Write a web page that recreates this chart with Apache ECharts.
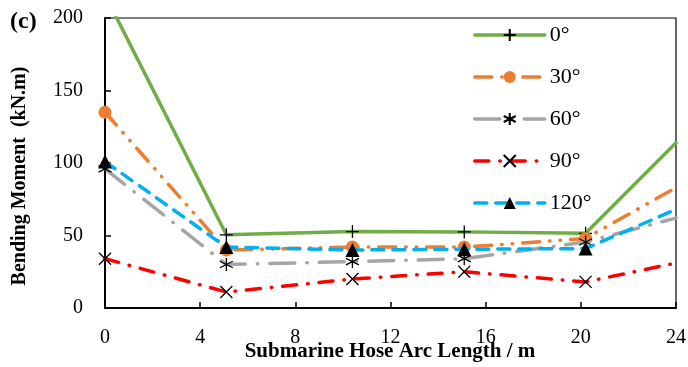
<!DOCTYPE html>
<html>
<head>
<meta charset="utf-8">
<script src="https://cdn.jsdelivr.net/npm/echarts@6/dist/echarts.min.js"></script>
<style>html,body{margin:0;padding:0;background:#fff}#c{width:688px;height:367px}</style>
</head>
<body>
<div id="c"></div>
<script>
// Data
var arcLength = [0, 5.1, 10.4, 15.1, 20.2, 24];
var seriesNames = ['0°', '30°', '60°', '90°', '120°'];
var moment0   = [216, 50.5, 52.7, 52.5, 51.5, 114];
var moment30  = [135, 40, 42, 42, 48, 83];
var moment60  = [96, 30, 32, 34, 45.5, 62];
var moment90  = [34, 11, 20, 25, 18, 31];
var moment120 = [101, 42, 40, 40.5, 41, 68];
var xTicks = { min: 0, max: 24, interval: 4 };
var yTicks = { min: 0, max: 200, interval: 50 };
var xTitle = 'Submarine Hose Arc Length / m';
var yTitle = 'Bending Moment  (kN.m)';

var FONT = 'Liberation Serif';
var PLUS = 'path://M0,-1 L0,1 M-1,0 L1,0';
var CROSS = 'path://M-1,-1 L1,1 M-1,1 L1,-1';
var STAR = 'path://M0,-1 L0,1 M-0.87,-0.5 L0.87,0.5 M-0.87,0.5 L0.87,-0.5';

function pts(vals, hideFirst) {
  return vals.map(function (v, i) {
    var item = { value: [arcLength[i], v] };
    if (i === vals.length - 1 || (hideFirst && i === 0)) item.symbol = 'none';
    return item;
  });
}

var styles = [
  { data: moment0, hideFirst: true, color: '#70AD47', dash: 'solid', symbol: PLUS, size: 13, fill: '#000', stroke: true },
  { data: moment30, color: '#ED7D31', dash: [17, 10, 0.5, 10, 0.5, 10], symbol: 'circle', size: 13, fill: '#ED7D31', stroke: false },
  { data: moment60, color: '#A5A5A5', dash: [25, 12, 0.5, 12], symbol: STAR, size: 13, fill: '#000', stroke: true },
  { data: moment90, color: '#FF0000', dash: [14, 11, 0.5, 11], symbol: CROSS, size: 12, fill: '#000', stroke: true },
  { data: moment120, color: '#00B0F0', dash: [12, 9], symbol: 'triangle', size: 14, fill: '#000', stroke: false }
];

var series = styles.map(function (s, k) {
  return {
    name: seriesNames[k],
    type: 'line',
    data: pts(s.data, s.hideFirst),
    symbol: s.symbol,
    symbolSize: s.size,
    showAllSymbol: true,
    clip: true,
    z: 2 + k,
    lineStyle: { color: s.color, width: 3.5, type: s.dash, cap: 'round' },
    itemStyle: s.stroke ? { color: s.fill, borderColor: '#000', borderWidth: 1.3 } : { color: s.fill, borderWidth: 0 },
    emphasis: { disabled: true },
    animation: false
  };
});

var chart = echarts.init(document.getElementById('c'), null, { renderer: 'canvas' });
chart.setOption({
  animation: false,
  textStyle: { fontFamily: FONT },
  grid: { left: 105, right: 12, top: 18, bottom: 59, show: true, borderColor: '#000', borderWidth: 1.2, containLabel: false, outerBoundsMode: 'none' },
  xAxis: {
    type: 'value', min: xTicks.min, max: xTicks.max, interval: xTicks.interval,
    axisLine: { show: true, lineStyle: { color: '#000', width: 2 } },
    axisTick: { show: true, inside: true, length: 6, lineStyle: { color: '#000', width: 1.5 } },
    axisLabel: { fontFamily: FONT, fontSize: 20, color: '#000', margin: 20 },
    splitLine: { show: false }
  },
  yAxis: {
    type: 'value', min: yTicks.min, max: yTicks.max, interval: yTicks.interval,
    axisLine: { show: true, lineStyle: { color: '#000', width: 2 } },
    axisTick: { show: true, inside: true, length: 6, lineStyle: { color: '#000', width: 1.5 } },
    axisLabel: { fontFamily: FONT, fontSize: 20, color: '#000', margin: 22 },
    splitLine: { show: false }
  },
  legend: {
    orient: 'vertical', left: 468, top: 19,
    itemWidth: 70, itemHeight: 15, itemGap: 20,
    lineStyle: { width: 3.5 },
    textStyle: { fontFamily: FONT, fontSize: 22, color: '#000', lineHeight: 22 },
    data: seriesNames
  },
  graphic: [{
    type: 'text', left: 10, top: 10,
    style: { text: '(c)', font: 'bold 24px "Liberation Serif"', fill: '#000' }
  }, {
    type: 'text', x: 20, y: 176, rotation: Math.PI / 2,
    style: { text: yTitle, font: 'bold 20px "Liberation Serif"', fill: '#000', align: 'center', verticalAlign: 'middle' }
  }, {
    type: 'text', x: 390, y: 352,
    style: { text: xTitle, font: 'bold 21px "Liberation Serif"', fill: '#000', align: 'center', verticalAlign: 'middle' }
  }],
  series: series
});
</script>
</body>
</html>
